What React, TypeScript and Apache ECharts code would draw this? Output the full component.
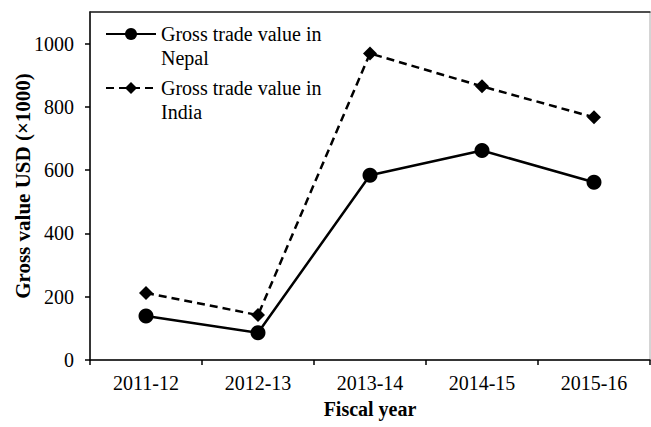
import React, { useEffect, useRef } from "react";
import * as echarts from "echarts";

const categories = ["2011-12", "2012-13", "2013-14", "2014-15", "2015-16"];
const nepalValues = [139, 86, 584, 662, 562];
const indiaValues = [212, 142, 969, 865, 767];
const yTicks = [0, 200, 400, 600, 800, 1000];
const nepalName = "Gross trade value in Nepal";
const indiaName = "Gross trade value in India";

const FONT = "'Liberation Serif', 'Times New Roman', serif";

export default function App() {
  const ref = useRef<HTMLDivElement>(null);
  useEffect(() => {
    if (!ref.current) return;
    const chart = echarts.init(ref.current, null, { renderer: "svg" });
    const legendText = {
      fontFamily: FONT,
      fontSize: 20,
      color: "#000",
      lineHeight: 24,
    };
    chart.setOption({
      animation: false,
      backgroundColor: "#fff",
      textStyle: { fontFamily: FONT, color: "#000" },
      grid: {
        left: 90,
        right: 1,
        top: 12,
        bottom: 67,
        containLabel: false,
        outerBoundsMode: "none",
        show: true,
        borderColor: "#aaa",
        borderWidth: 1,
        backgroundColor: "transparent",
      },
      legend: [
        {
          data: [nepalName],
          left: 105,
          top: 34 - 36,
          padding: 0,
          itemWidth: 50,
          itemHeight: 15,
          itemGap: 5,
          textStyle: legendText,
          formatter: () => " \nGross trade value in\nNepal",
        },
        {
          data: [indiaName],
          left: 105,
          top: 88 - 36,
          padding: 0,
          itemWidth: 50,
          itemHeight: 15,
          itemGap: 5,
          textStyle: legendText,
          formatter: () => " \nGross trade value in\nIndia",
        },
      ],
      xAxis: [
        {
          type: "category",
          data: categories,
          boundaryGap: true,
          axisLine: { lineStyle: { color: "#000", width: 1.5 } },
          axisTick: { show: true, inside: false, length: 5, lineStyle: { color: "#000", width: 1.5 } },
          axisLabel: { fontFamily: FONT, fontSize: 20, color: "#000", margin: 13 },
          name: "Fiscal year",
          nameLocation: "middle",
          nameGap: 39,
          nameMoveOverlap: false,
          nameTextStyle: { fontFamily: FONT, fontSize: 20, fontWeight: "bold", color: "#000" },
          splitLine: { show: false },
        },
        {
          type: "category",
          data: categories,
          position: "top",
          axisLine: { show: true, lineStyle: { color: "#222", width: 1.5 } },
          axisTick: { show: false },
          axisLabel: { show: false },
          splitLine: { show: false },
        },
      ],
      yAxis: {
        type: "value",
        min: 0,
        max: 1100,
        interval: 200,
        axisLine: { show: true, lineStyle: { color: "#000", width: 1.5 } },
        axisTick: { show: true, inside: false, length: 5, lineStyle: { color: "#000", width: 1.5 }, customValues: yTicks },
        axisLabel: {
          fontFamily: FONT,
          fontSize: 20,
          color: "#000",
          margin: 16,
          customValues: yTicks,
          formatter: (v: number) => (v > 1000 ? "" : String(v)),
        },
        splitLine: { show: false },
        name: "Gross value USD (×1000)",
        nameLocation: "middle",
        nameGap: 57,
        nameMoveOverlap: false,
        nameTextStyle: { fontFamily: FONT, fontSize: 21, fontWeight: "bold", color: "#000" },
      },
      series: [
        {
          name: nepalName,
          type: "line",
          data: nepalValues,
          symbol: "circle",
          symbolSize: 15,
          itemStyle: { color: "#000" },
          lineStyle: { color: "#000", width: 2.5, type: "solid" },
        },
        {
          name: indiaName,
          type: "line",
          data: indiaValues,
          symbol: "diamond",
          symbolSize: 14,
          itemStyle: { color: "#000" },
          lineStyle: { color: "#000", width: 2.5, type: [8, 5] },
        },
      ],
    });
    return () => chart.dispose();
  }, []);
  return (
    <div
      ref={ref}
      style={{ position: "fixed", left: 0, top: 0, width: 651, height: 427, background: "#fff" }}
    />
  );
}
